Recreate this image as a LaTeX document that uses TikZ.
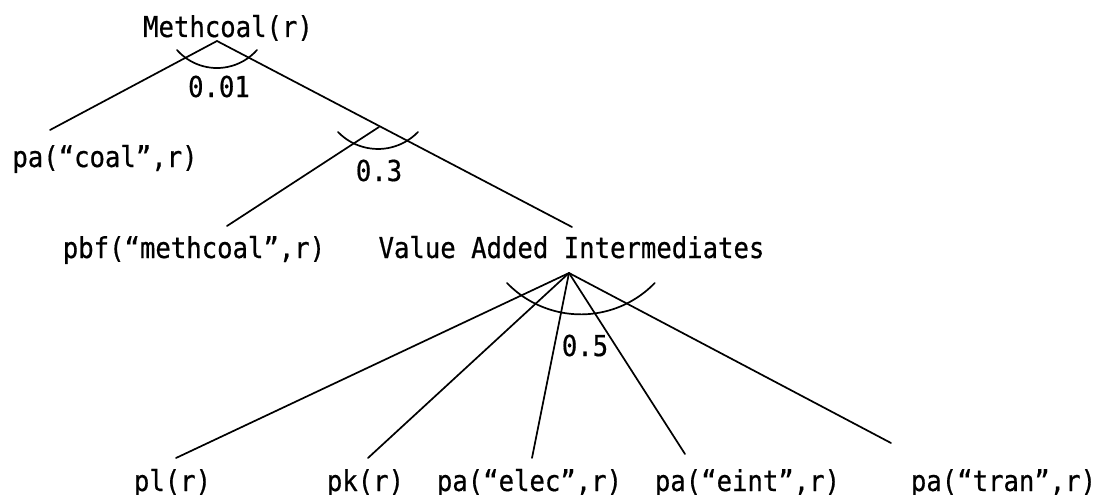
\documentclass[tikz,border=0pt]{standalone}
\usepackage{fontspec}
\setmonofont[FakeStretch=0.89,FakeBold=0.6]{DejaVu Sans Mono}
\usetikzlibrary{arrows}

\begin{document}
\begin{tikzpicture}[line cap=round,line join=round,x=1pt,y=-1pt,line width=1.7pt,
  lbl/.style={font=\ttfamily\fontsize{28.8}{30}\selectfont,inner sep=0pt,anchor=base}]
\clip (0,0) rectangle (1101,495);
% labels
\node[lbl] (methcoal) at (228,37) {Methcoal(r)};
\node[lbl] (coal) at (105,167) {pa(“coal”,r)};
\node[lbl] (pbf) at (194,258) {pbf(“methcoal”,r)};
\node[lbl] (vai) at (571.5,258) {Value Added Intermediates};
\node[lbl] (pl) at (172.5,491) {pl(r)};
\node[lbl] (pk) at (365.5,491) {pk(r)};
\node[lbl] (elec) at (529.5,491) {pa(“elec”,r)};
\node[lbl] (eint) at (747.5,491) {pa(“eint”,r)};
\node[lbl] (tran) at (1003.5,491) {pa(“tran”,r)};
\node[lbl] (s1) at (219,97) {0.01};
\node[lbl] (s2) at (379,181) {0.3};
\node[lbl] (s3) at (585,356) {0.5};
% branch points
\coordinate (mtop) at (217,41);
\coordinate (coalend) at (50,130);
\coordinate (vaiend) at (572,227);
\coordinate (nest) at (379,127);
\coordinate (pbfend) at (227,226);
\coordinate (vaitop) at (569,273);
\coordinate (plend) at (176,458);
\coordinate (pkend) at (368,458);
\coordinate (elecend) at (532,458);
\coordinate (eintend) at (685,454);
\coordinate (tranend) at (891,443);
% tree
\draw (mtop) -- (coalend);
\draw (mtop) -- (vaiend);
\draw (nest) -- (pbfend);
\draw (vaitop) -- (plend);
\draw (vaitop) -- (pkend);
\draw (vaitop) -- (elecend);
\draw (vaitop) -- (eintend);
\draw (vaitop) -- (tranend);
% elasticity arcs
\draw (177,50) arc[start angle=138.5,end angle=41.5,radius=53.4];
\draw (338,132) arc[start angle=136,end angle=44,radius=55.6];
\draw (507,283) arc[start angle=136,end angle=44,radius=102.7];
\end{tikzpicture}
\end{document}
